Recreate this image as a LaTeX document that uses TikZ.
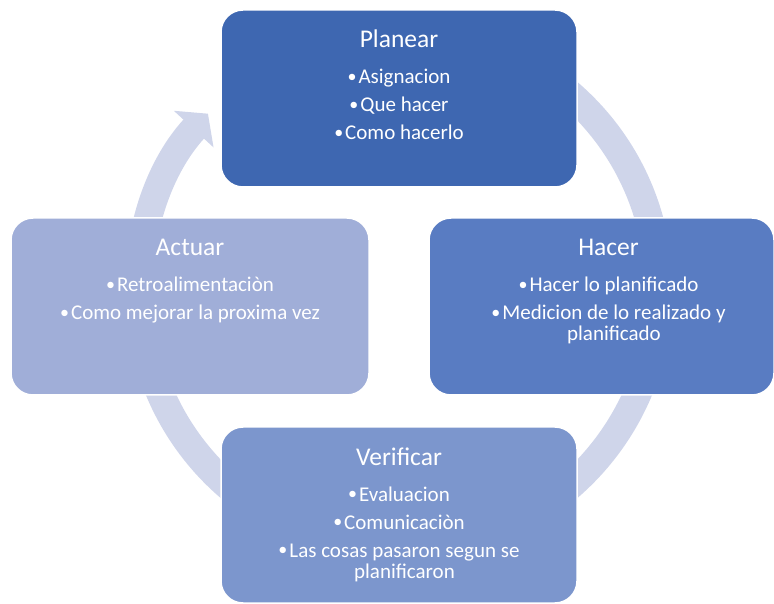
\documentclass[tikz,border=0pt]{standalone}
\usepackage{fontspec}
\setmainfont{Carlito}
\usetikzlibrary{arrows.meta}
\definecolor{plancol}{RGB}{62,103,177}
\definecolor{hacercol}{RGB}{89,124,194}
\definecolor{verifcol}{RGB}{124,150,205}
\definecolor{actuarcol}{RGB}{160,174,216}
\definecolor{ringcol}{RGB}{207,213,234}
\newcommand{\pdcalist}[1]{\begin{tabular}[t]{@{}c@{}}#1\end{tabular}}
\newcommand{\pdcadot}{\raisebox{1.3pt}{\fontsize{18}{18}\selectfont•}\hspace{2pt}}

\begin{document}
\begin{tikzpicture}[x=1pt,y=1pt,
	box/.style={draw=white,line width=1.5pt,rounded corners=22pt,minimum height=177pt,inner sep=0pt,outer sep=0pt},
	title/.style={anchor=base,text=white,inner sep=0pt,font=\fontsize{25.5}{30}\selectfont},
	items/.style={anchor=base,text=white,inner sep=0pt,font=\fontsize{21}{21}\selectfont}]
	\useasboundingbox (0,0) rectangle (774,603);
	% cycle ring behind the boxes
	\coordinate (ringc) at (399,313);
	\draw[ringcol,line width=28pt,-{Triangle[width=53pt,length=21pt]}] (ringc) ++(100:260pt) arc[start angle=100,end angle=-222.7,radius=260pt];
	% the four stages
	\node[box,fill=plancol,minimum width=356pt] (plan) at (399,504.5) {};
	\node[box,fill=hacercol,minimum width=345pt] (hacer) at (601.5,296.5) {};
	\node[box,fill=verifcol,minimum width=356pt,minimum height=176pt] (verif) at (399,88) {};
	\node[box,fill=actuarcol,minimum width=358pt] (actuar) at (190,296.5) {};
	\node[title] (plan-t) at ([yshift=-38pt]plan.north) {Planear};
	\node[items] (plan-i) at ([yshift=-74pt]plan.north) {\pdcalist{\pdcadot Asignacion\\[7pt]\pdcadot Que hacer\\[7pt]\pdcadot Como hacerlo}};
	\node[title] (hacer-t) at ([xshift=7pt,yshift=-38pt]hacer.north) {Hacer};
	\node[items] (hacer-i) at ([xshift=7pt,yshift=-74pt]hacer.north) {\pdcalist{\pdcadot Hacer lo planificado\\[7pt]\pdcadot Medicion de lo realizado y\\\phantom{\pdcadot}planificado}};
	\node[title] (verif-t) at ([yshift=-38pt]verif.north) {Verificar};
	\node[items] (verif-i) at ([yshift=-74pt]verif.north) {\pdcalist{\pdcadot Evaluacion\\[7pt]\pdcadot Comunicaciòn\\[7pt]\pdcadot Las cosas pasaron segun se\\\phantom{\pdcadot}planificaron}};
	\node[title] (actuar-t) at ([yshift=-38pt]actuar.north) {Actuar};
	\node[items] (actuar-i) at ([yshift=-74pt]actuar.north) {\pdcalist{\pdcadot Retroalimentaciòn\\[7pt]\pdcadot Como mejorar la proxima vez}};
\end{tikzpicture}
\end{document}
